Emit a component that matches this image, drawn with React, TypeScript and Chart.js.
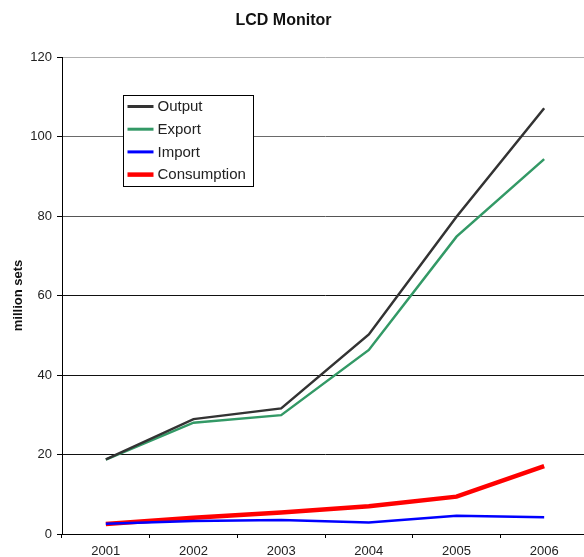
import React, { useEffect, useRef } from "react";
import { Chart, registerables } from "chart.js";

Chart.register(...registerables);

const years = ["2001", "2002", "2003", "2004", "2005", "2006"];
const outputVals = [18.8, 28.9, 31.6, 50.2, 79.8, 107.1];
const exportVals = [18.7, 28.0, 29.9, 46.3, 74.8, 94.3];
const importVals = [2.6, 3.3, 3.5, 2.9, 4.6, 4.2];
const consumptionVals = [2.5, 4.1, 5.4, 7.0, 9.4, 17.1];
const yMin = 0;
const yMax = 120;
const yStep = 20;
const titleText = "LCD Monitor";
const yTitleText = "million sets";

const FONT = "'Liberation Sans', Arial, Helvetica, sans-serif";

const overlayPlugin = {
  id: "overlay",
  afterDraw(chart: any) {
    const ctx = chart.ctx;
    const area = chart.chartArea;
    ctx.save();
    // title
    ctx.fillStyle = "#111";
    ctx.font = `bold 16px ${FONT}`;
    ctx.textAlign = "center";
    ctx.textBaseline = "alphabetic";
    ctx.fillText(titleText, 283.5, 25);
    // y title
    ctx.save();
    ctx.translate(18, (area.top + area.bottom) / 2);
    ctx.rotate(-Math.PI / 2);
    ctx.font = `bold 13px ${FONT}`;
    ctx.textBaseline = "middle";
    ctx.textAlign = "center";
    ctx.fillText(yTitleText, 0, 0);
    ctx.restore();
    // legend
    const bx = area.left + 61.5;
    const by = 95.5;
    const bw = 130;
    const bh = 91;
    ctx.fillStyle = "#fff";
    ctx.fillRect(bx, by, bw, bh);
    ctx.strokeStyle = "#000";
    ctx.lineWidth = 1;
    ctx.strokeRect(bx, by, bw, bh);
    ctx.font = `15px ${FONT}`;
    ctx.textAlign = "left";
    ctx.textBaseline = "middle";
    chart.data.datasets.forEach((ds: any, i: number) => {
      const y = 106.5 + i * 22.7;
      ctx.strokeStyle = ds.borderColor;
      ctx.lineWidth = ds.legendWidth;
      ctx.beginPath();
      ctx.moveTo(bx + 4, y);
      ctx.lineTo(bx + 30, y);
      ctx.stroke();
      ctx.fillStyle = "#222";
      ctx.fillText(ds.label, bx + 34, y + 0.5);
    });
    ctx.restore();
  },
};

function gridColor(ctx: any) {
  const v = ctx.tick ? ctx.tick.value : 0;
  if (v === 120) return "#b0b0b0";
  if (v === 100) return "#6a6a6a";
  if (v === 80) return "#555";
  return "#111";
}

export default function App() {
  const ref = useRef<HTMLCanvasElement | null>(null);
  useEffect(() => {
    if (!ref.current) return;
    const chart = new Chart(ref.current, {
      type: "line",
      data: {
        labels: years,
        datasets: [
          { label: "Output", data: outputVals, borderColor: "#333333", borderWidth: 2.5, legendWidth: 3 } as any,
          { label: "Export", data: exportVals, borderColor: "#339966", borderWidth: 2.5, legendWidth: 3 } as any,
          { label: "Import", data: importVals, borderColor: "#0000ff", borderWidth: 2.5, legendWidth: 3 } as any,
          { label: "Consumption", data: consumptionVals, borderColor: "#ff0000", borderWidth: 4.5, legendWidth: 4.5 } as any,
        ],
      },
      options: {
        responsive: false,
        animation: false,
        devicePixelRatio: 1,
        layout: { padding: { top: 57, right: 2, left: 0, bottom: 0 } },
        elements: {
          point: { radius: 0, hoverRadius: 0 },
          line: { tension: 0, borderCapStyle: "butt", borderJoinStyle: "miter" },
        },
        plugins: {
          legend: { display: false },
          title: { display: false },
          tooltip: { enabled: false },
        },
        scales: {
          x: {
            type: "category",
            offset: true,
            grid: {
              display: true,
              drawOnChartArea: false,
              drawTicks: true,
              tickLength: 4,
              offset: true,
              color: "#000",
            },
            border: { display: true, color: "#000", width: 1 },
            ticks: {
              color: "#222",
              padding: 6,
              maxRotation: 0,
              font: { family: FONT, size: 13 },
            },
            afterFit: (s: any) => {
              s.height = 23;
            },
          },
          y: {
            min: yMin,
            max: yMax,
            grid: {
              color: gridColor,
              tickColor: "#000",
              tickLength: 5,
              drawTicks: true,
            },
            border: { display: true, color: "#000", width: 1 },
            ticks: {
              stepSize: yStep,
              color: "#222",
              padding: 5,
              font: { family: FONT, size: 13 },
            },
            afterFit: (s: any) => {
              s.width = 62;
            },
          },
        },
      } as any,
      plugins: [overlayPlugin],
    });
    return () => chart.destroy();
  }, []);
  return (
    <div
      style={{
        position: "fixed",
        left: 0,
        top: 0,
        width: 584,
        height: 557,
        overflow: "hidden",
        background: "#fff",
      }}
    >
      <canvas ref={ref} width={590} height={557} style={{ display: "block" }} />
    </div>
  );
}
